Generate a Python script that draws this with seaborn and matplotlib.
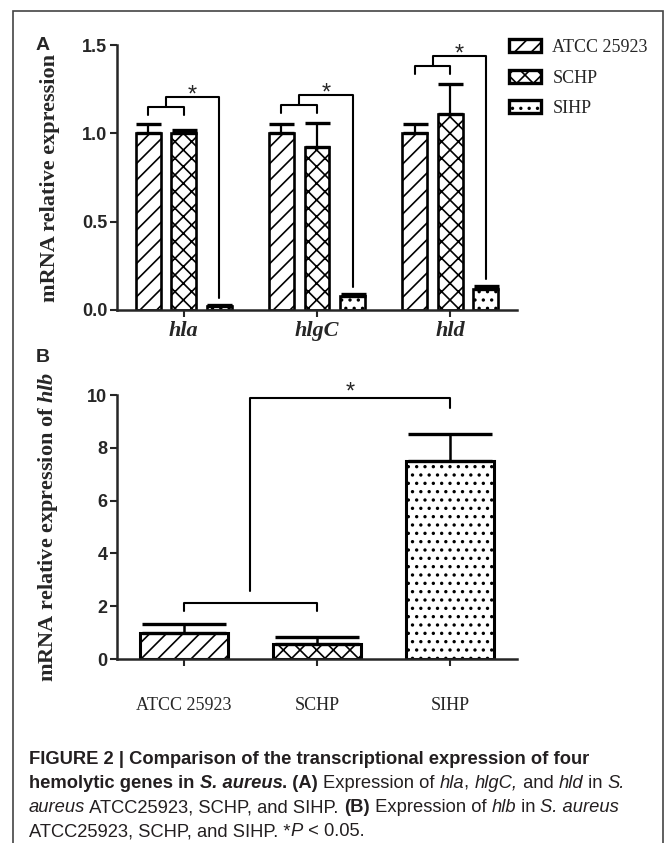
import matplotlib
matplotlib.use("Agg")
import matplotlib.pyplot as plt
import seaborn as sns
import pandas as pd
import numpy as np
from matplotlib.patches import Patch, Rectangle
from matplotlib.font_manager import FontProperties
from matplotlib.transforms import IdentityTransform

# data
genes = ["hla", "hlgC", "hld"]
strains = ["ATCC 25923", "SCHP", "SIHP"]
atcc_a = [1.00, 1.00, 1.00]
atcc_a_err = [0.05, 0.05, 0.05]
schp_a = [1.00, 0.92, 1.11]
schp_a_err = [0.02, 0.14, 0.17]
sihp_a = [0.02, 0.08, 0.12]
sihp_a_err = [0.01, 0.01, 0.015]
hlb = [1.00, 0.58, 7.50]
hlb_err = [0.33, 0.25, 1.04]

hatches = ["//", "xx", ".."]

sns.set_theme(style="ticks")
plt.rcParams["font.family"] = ["Liberation Sans", "DejaVu Sans"]
plt.rcParams["hatch.linewidth"] = 1.2
plt.rcParams["mathtext.fontset"] = "custom"
plt.rcParams["mathtext.bfit"] = "Liberation Serif:italic:bold"
plt.rcParams["mathtext.rm"] = "Liberation Serif:bold"

W, H = 669, 843
fig = plt.figure(figsize=(W / 100, H / 100), dpi=100, facecolor="white")
ax_a = fig.add_axes([117 / W, 1 - 310 / H, 400 / W, 265 / H])
ax_b = fig.add_axes([117 / W, 1 - 659 / H, 400 / W, 264 / H])

serif_b = FontProperties(family="Liberation Serif", weight="bold", size=16)
tick_font = FontProperties(family="Liberation Sans", weight="bold", size=13)

# ---------------- panel A
df_a = pd.DataFrame({
    "gene": genes * 3,
    "strain": np.repeat(strains, 3),
    "expr": atcc_a + schp_a + sihp_a,
    "err": atcc_a_err + schp_a_err + sihp_a_err,
})
sns.barplot(data=df_a, x="gene", y="expr", hue="strain", order=genes,
            hue_order=strains, palette=["white"] * 3, edgecolor="black",
            linewidth=1.9, width=0.8, gap=0.3, errorbar=None, legend=False,
            ax=ax_a)

bars = sorted(ax_a.patches, key=lambda p: p.get_x())
xc, tops = [], []
for i, p in enumerate(bars):
    g, s = i // 3, i % 3
    p.set_hatch(hatches[s])
    row = df_a[(df_a.gene == genes[g]) & (df_a.strain == strains[s])].iloc[0]
    x = p.get_x() + p.get_width() / 2
    xc.append(x)
    tops.append(row.expr + row.err)
    ax_a.errorbar(x, row.expr, yerr=[[0], [row.err]], fmt="none", ecolor="black",
                  elinewidth=1.6, capsize=9, capthick=2.4, zorder=3)

lw = 1.5
for g in range(3):
    x0, x1, x2 = xc[3 * g], xc[3 * g + 1], xc[3 * g + 2]
    low = max(tops[3 * g], tops[3 * g + 1]) + 0.1
    up = low + 0.055
    mid = (x0 + x1) / 2
    ax_a.plot([x0, x0, x1, x1], [low - 0.045, low, low, low - 0.045], color="black", lw=lw)
    ax_a.plot([mid, mid, x2, x2], [low, up, up, tops[3 * g + 2] + 0.04], color="black", lw=lw)
    ax_a.annotate("*", xy=((mid + x2) / 2, up), xytext=(0, -3), textcoords="offset points",
                  ha="center", va="baseline", fontsize=17, annotation_clip=False)

ax_a.set_ylim(0, 1.5)
ax_a.set_yticks([0.0, 0.5, 1.0, 1.5])
ax_a.set_yticklabels(["0.0", "0.5", "1.0", "1.5"])
ax_a.set_xlabel("")
ax_a.set_ylabel("mRNA relative expression", fontproperties=serif_b)
ax_a.yaxis.set_label_coords(-0.1425, 0.5)
ax_a.tick_params(axis="x", length=5, width=1.5, pad=3)
for lbl in ax_a.get_xticklabels():
    lbl.set_fontproperties(FontProperties(family="Liberation Serif", weight="bold",
                                          style="italic", size=16))

# ---------------- panel B
df_b = pd.DataFrame({"strain": strains, "expr": hlb, "err": hlb_err})
sns.barplot(data=df_b, x="strain", y="expr", order=strains, color="white",
            edgecolor="black", linewidth=2.2, width=0.66, errorbar=None, ax=ax_b)

bars_b = sorted(ax_b.patches, key=lambda p: p.get_x())
xb, tb = [], []
for i, p in enumerate(bars_b):
    p.set_hatch(hatches[i])
    x = p.get_x() + p.get_width() / 2
    xb.append(x)
    tb.append(hlb[i] + hlb_err[i])
    ax_b.errorbar(x, hlb[i], yerr=[[0], [hlb_err[i]]], fmt="none", ecolor="black",
                  elinewidth=1.8, capsize=30, capthick=2.4, zorder=3)

low = max(tb[0], tb[1]) + 0.8
mid = (xb[0] + xb[1]) / 2
top = tb[2] + 1.33
ax_b.plot([xb[0], xb[0], xb[1], xb[1]], [low - 0.33, low, low, low - 0.33], color="black", lw=lw)
ax_b.plot([mid, mid, xb[2], xb[2]], [low + 0.45, top, top, top - 0.35], color="black", lw=lw)
ax_b.annotate("*", xy=((mid + xb[2]) / 2, top), xytext=(0, 0), textcoords="offset points",
              ha="center", va="baseline", fontsize=17, annotation_clip=False)

ax_b.set_ylim(0, 10)
ax_b.set_yticks([0, 2, 4, 6, 8, 10])
ax_b.set_xlabel("")
ax_b.set_ylabel(r"mRNA relative expression of $\mathbfit{hlb}$", fontproperties=serif_b)
ax_b.yaxis.set_label_coords(-0.1425, 0.5)
ax_b.tick_params(axis="x", length=5, width=1.5, pad=22)
for lbl in ax_b.get_xticklabels():
    lbl.set_fontproperties(FontProperties(family="Liberation Serif", size=13))

for ax in (ax_a, ax_b):
    sns.despine(ax=ax)
    for sp in ("left", "bottom"):
        ax.spines[sp].set_linewidth(1.8)
    ax.set_xlim(-0.5, 2.5)
    ax.tick_params(axis="y", length=5, width=1.5, pad=2)
    for lbl in ax.get_yticklabels():
        lbl.set_fontproperties(tick_font)

# legend
handles = [Patch(facecolor="white", edgecolor="black", hatch=h, linewidth=2.4, label=s)
           for h, s in zip(hatches, strains)]
fig.legend(handles=handles, loc="upper left", bbox_to_anchor=(509 / W, 1 - 39 / H),
           frameon=False, prop=FontProperties(family="Liberation Serif", size=13),
           handlelength=1.75, handleheight=0.75, handletextpad=0.65,
           labelspacing=0.75, borderpad=0, borderaxespad=0)

# panel letters
for letter, y in (("A", 45), ("B", 358)):
    fig.text(43 / W, 1 - y / H, letter, fontsize=14, fontweight="bold",
             ha="center", va="center")

# frame around the figure
fig.add_artist(Rectangle((13 / W, -0.02), 650 / W, 1 - 11 / H + 0.02,
                         transform=fig.transFigure, fill=False, lw=1.2,
                         edgecolor="#444444"))

# caption, drawn run by run
renderer = fig.canvas.get_renderer()
cap_size = 13.2


def props(weight, style):
    return FontProperties(family="Liberation Sans", weight=weight, style=style, size=cap_size)


def adv(s, fp):
    w1, _, _ = renderer.get_text_width_height_descent("|" + s + "|", fp, ismath=False)
    w0, _, _ = renderer.get_text_width_height_descent("||", fp, ismath=False)
    return w1 - w0


caption = [
    [("FIGURE 2 | Comparison of the transcriptional expression of four", "bold", "normal")],
    [("hemolytic genes in ", "bold", "normal"), ("S. aureus", "bold", "italic"),
     (". (A) ", "bold", "normal"), ("Expression of ", "normal", "normal"),
     ("hla", "normal", "italic"), (", ", "normal", "normal"), ("hlgC,", "normal", "italic"),
     (" and ", "normal", "normal"), ("hld", "normal", "italic"), (" in ", "normal", "normal"),
     ("S.", "normal", "italic")],
    [("aureus", "normal", "italic"), (" ATCC25923, SCHP, and SIHP. ", "normal", "normal"),
     ("(B)", "bold", "normal"), (" Expression of ", "normal", "normal"),
     ("hlb", "normal", "italic"), (" in ", "normal", "normal"), ("S. aureus", "normal", "italic")],
    [("ATCC25923, SCHP, and SIHP. *", "normal", "normal"), ("P", "normal", "italic"),
     (" < 0.05.", "normal", "normal")],
]
line_y = [759, 783, 808, 832]
for runs, yl in zip(caption, line_y):
    x = 29
    for txt, wt, st in runs:
        fp = props(wt, st)
        fig.text(x, H - yl, txt, fontproperties=fp, transform=IdentityTransform(),
                 ha="left", va="center", color="#231f20")
        x += adv(txt, fp)

fig.savefig("out.png", dpi=100)
